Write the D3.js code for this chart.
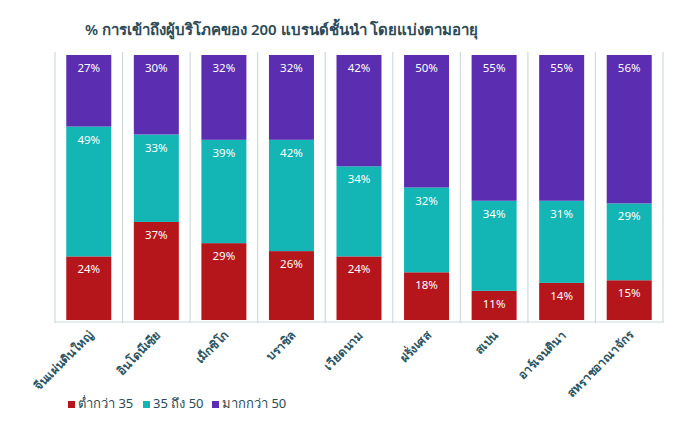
<!DOCTYPE html>
<html>
<head>
<meta charset="utf-8">
<script src="https://cdn.jsdelivr.net/npm/d3@7"></script>
<style>
  body { margin: 0; background: #fff; }
  svg { font-family: "Noto Sans", "Open Sans", sans-serif; }
</style>
</head>
<body>
<svg width="700" height="445"></svg>
<script>
// data
const countries = ["จีนแผ่นดินใหญ่", "อินโดนีเซีย", "เม็กซิโก", "บราซิล", "เวียดนาม", "ฝรั่งเศส", "สเปน", "อาร์เจนตินา", "สหราชอาณาจักร"];
const under35 = [24, 37, 29, 26, 24, 18, 11, 14, 15];
const from35to50 = [49, 33, 39, 42, 34, 32, 34, 31, 29];
const over50 = [27, 30, 32, 32, 42, 50, 55, 55, 56];
const seriesNames = ["ต่ำกว่า 35", "35 ถึง 50", "มากกว่า 50"];
const colors = ["#b5161b", "#13b6b4", "#5a2db1"];

const svg = d3.select("svg");

// title
svg.append("text")
  .attr("x", 85)
  .attr("y", 35)
  .attr("fill", "#2c4a56")
  .style("font-size", "15px")
  .style("font-weight", "600")
  .text("% การเข้าถึงผู้บริโภคของ 200 แบรนด์ชั้นนำ โดยแบ่งตามอายุ");

const x = d3.scaleBand().domain(countries).range([55, 663]).paddingInner(0).paddingOuter(0);
const y = d3.scaleLinear().domain([0, 100]).range([320, 55]);

// table for stack
const rows = countries.map((c, i) => ({ c: c, a: under35[i], b: from35to50[i], d: over50[i] }));
const keys = ["a", "b", "d"];
const stacked = d3.stack().keys(keys)(rows);

// grid lines between categories
const gridX = countries.map(c => x(c)).concat([x.range()[1]]);
svg.append("g").selectAll("line")
  .data(gridX)
  .enter()
  .append("line")
  .attr("x1", d => d).attr("x2", d => d)
  .attr("y1", 52).attr("y2", 323)
  .attr("stroke", "#cfdadd")
  .attr("stroke-width", 1.2);

svg.append("line")
  .attr("x1", 55).attr("x2", 663)
  .attr("y1", 322).attr("y2", 322)
  .attr("stroke", "#cfdadd")
  .attr("stroke-width", 1.2);

const barW = 45;
const layers = svg.append("g").selectAll("g")
  .data(stacked)
  .enter()
  .append("g")
  .attr("fill", (d, i) => colors[i]);

layers.selectAll("rect")
  .data(d => d)
  .enter()
  .append("rect")
  .attr("x", d => x(d.data.c) + x.bandwidth() / 2 - barW / 2)
  .attr("y", d => y(d[1]))
  .attr("width", barW)
  .attr("height", d => y(d[0]) - y(d[1]));

// value labels near top of each segment
layers.selectAll("text")
  .data(d => d.map(v => ({ v: v, key: d.key })))
  .enter()
  .append("text")
  .attr("x", d => x(d.v.data.c) + x.bandwidth() / 2)
  .attr("y", d => y(d.v[1]) + 17)
  .attr("text-anchor", "middle")
  .attr("fill", "#fff")
  .style("font-size", "11.5px")
  .text(d => d.v.data[d.key] + "%");

// x axis labels
const xAxis = d3.axisBottom(x).tickSize(0).tickPadding(0);
const gx = svg.append("g").attr("transform", "translate(0,328)").call(xAxis);
gx.select(".domain").remove();
gx.selectAll("text")
  .attr("fill", "#2c5562")
  .style("font-size", "12px")
  .style("font-weight", "600")
  .style("font-family", "'Noto Sans', sans-serif")
  .attr("text-anchor", "end")
  .attr("dy", "0.35em")
  .attr("transform", "translate(2,5) rotate(-45)");

// legend
const legend = svg.append("g").attr("transform", "translate(68,407)");
const gaps = [0, 75, 144];
seriesNames.forEach((name, i) => {
  const g = legend.append("g").attr("transform", "translate(" + gaps[i] + ",0)");
  g.append("rect").attr("x", 0).attr("y", -6).attr("width", 7).attr("height", 7).attr("fill", colors[i]);
  g.append("text").attr("x", 10).attr("y", 1).attr("fill", "#2c4a56").style("font-size", "13px").text(name);
});
</script>
</body>
</html>
